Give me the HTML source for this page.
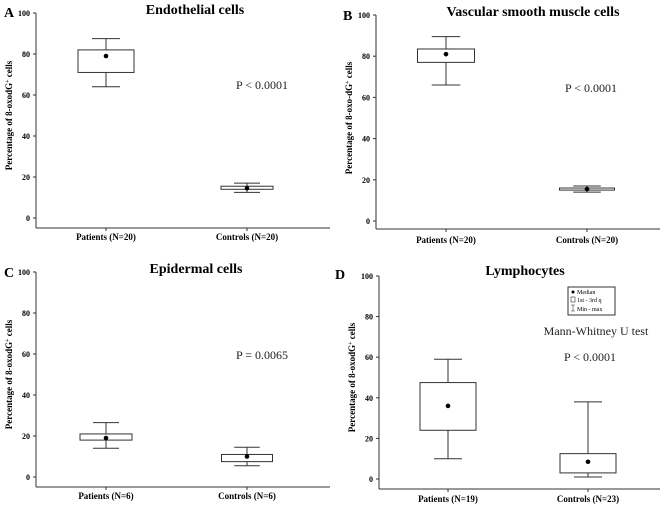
<!DOCTYPE html>
<html><head><meta charset="utf-8"><style>
body{margin:0;background:#fff}
svg{display:block;font-family:"Liberation Serif",serif}
</style></head><body>
<svg id="c" width="662" height="509" viewBox="0 0 662 509"></svg>
<script>
const groups=[["Patients (N=20)","Controls (N=20)"],["Patients (N=20)","Controls (N=20)"],["Patients (N=6)","Controls (N=6)"],["Patients (N=19)","Controls (N=23)"]];
const mins=[[64,12.5],[66,14],[14,5.5],[10,1]];
const q1s=[[71,14],[77,15],[18,7.5],[24,3]];
const medians=[[79,14.5],[81,15.5],[19,10],[36,8.5]];
const q3s=[[82,15.5],[83.5,16],[21,11],[47.5,12.5]];
const maxs=[[87.5,17],[89.5,17],[26.5,14.5],[59,38]];
const titles=["Endothelial cells","Vascular smooth muscle cells","Epidermal cells","Lymphocytes"];
const letters=["A","B","C","D"];
const pvals=["P < 0.0001","P < 0.0001","P = 0.0065","P < 0.0001"];
const ticks=[0,20,40,60,80,100];
const ylabels=["Percentage of 8-oxodG","Percentage of 8-oxo-dG","Percentage of 8-oxodG","Percentage of 8-oxodG"];
const L=[
 {ax:36,y100:13,y0:218,xb:228,x1:330,cx:[106,247],bw:[56,52],lab:240,tx:195,ty:14,px:262,py:89,lx:4,ly:17},
 {ax:376,y100:15,y0:221,xb:229,x1:660,cx:[446,587],bw:[57,55],lab:243,tx:533,ty:16,px:591,py:92,lx:343,ly:20},
 {ax:36,y100:272,y0:477,xb:487,x1:330,cx:[106,247],bw:[52,51],lab:499,tx:196,ty:273,px:262,py:359,lx:4,ly:277},
 {ax:379,y100:276,y0:479,xb:489,x1:660,cx:[448,588],bw:[56,56],lab:502,tx:525,ty:275,px:590,py:361,lx:335,ly:279}
];
const svg=document.getElementById('c');const NS="http://www.w3.org/2000/svg";
function mk(t,a,p,txt){const e=document.createElementNS(NS,t);for(const k in a)e.setAttribute(k,a[k]);if(txt!==undefined)e.textContent=txt;(p||svg).appendChild(e);return e;}
for(let i=0;i<4;i++){
 const g=L[i];
 const y=v=>g.y0-(g.y0-g.y100)*v/100;
 const p=mk('g',{});
 
 
 let e=mk('line',{x1:g.ax,y1:g.y100,x2:g.ax,y2:g.xb,stroke:'#333','stroke-width':1},p);
 
 e=mk('line',{x1:g.ax,y1:g.xb,x2:g.x1,y2:g.xb,stroke:'#333','stroke-width':1},p);
 
 ticks.forEach(t=>{
  mk('line',{x1:g.ax-3,y1:y(t),x2:g.ax,y2:y(t),stroke:'#333'},p);
  e=mk('text',{x:g.ax-6,y:y(t)+3,'font-size':8,'font-weight':'bold','text-anchor':'end'},p,t);
  
 });
 e=mk('text',{x:0,y:0,'font-size':9,'font-weight':'bold','text-anchor':'middle',transform:`translate(${g.ax-24},${(g.y0+g.y100)/2}) rotate(-90)`},p);
 e.innerHTML=ylabels[i]+'<tspan font-size="6" dy="-3">+</tspan><tspan dy="3"> cells</tspan>';
 
 e=mk('text',{x:g.tx,y:g.ty,'font-size':14,'font-weight':'bold','text-anchor':'middle'},p,titles[i]);
 
 e=mk('text',{x:g.lx,y:g.ly,'font-size':14,'font-weight':'bold'},p,letters[i]);
 
 e=mk('text',{x:g.px,y:g.py,'font-size':12,'text-anchor':'middle',fill:'#222'},p,pvals[i]);
 
 for(let j=0;j<2;j++){
  const cx=g.cx[j],w=g.bw[j];
  mk('line',{x1:cx,y1:g.xb,x2:cx,y2:g.xb+3,stroke:'#333'},p);
  e=mk('text',{x:cx,y:g.lab,'font-size':9,'font-weight':'bold','text-anchor':'middle'},p,groups[i][j]);
  
  const b=mk('g',{stroke:'#333','stroke-width':1,fill:'#fff'},p);
  
  
  mk('line',{x1:cx,y1:y(maxs[i][j]),x2:cx,y2:y(mins[i][j])},b);
  mk('line',{x1:cx-w/4,y1:y(maxs[i][j]),x2:cx+w/4,y2:y(maxs[i][j])},b);
  mk('line',{x1:cx-w/4,y1:y(mins[i][j]),x2:cx+w/4,y2:y(mins[i][j])},b);
  mk('rect',{x:cx-w/2,y:y(q3s[i][j]),width:w,height:Math.max(1,y(q1s[i][j])-y(q3s[i][j]))},b);
  mk('circle',{cx:cx,cy:y(medians[i][j]),r:2.3,fill:'#000',stroke:'none'},b);
 }
}
const lg=mk('g',{});


mk('rect',{x:568,y:287,width:47,height:28,fill:'#fff',stroke:'#333'},lg);
mk('circle',{cx:573,cy:292,r:1.5,fill:'#000'},lg);
mk('text',{x:577,y:294,'font-size':6},lg,'Median');
mk('rect',{x:571,y:297,width:4,height:5,fill:'#fff',stroke:'#333','stroke-width':0.6},lg);
mk('text',{x:577,y:302,'font-size':6},lg,'1st - 3rd q');
mk('path',{d:'M571 305h4M573 305v6M571 311h4',stroke:'#333','stroke-width':0.6,fill:'none'},lg);
mk('text',{x:577,y:311,'font-size':6},lg,'Min - max');
let mw=mk('text',{x:596,y:335,'font-size':12,'text-anchor':'middle',fill:'#222'},svg,'Mann-Whitney U test');


</script>
</body></html>
